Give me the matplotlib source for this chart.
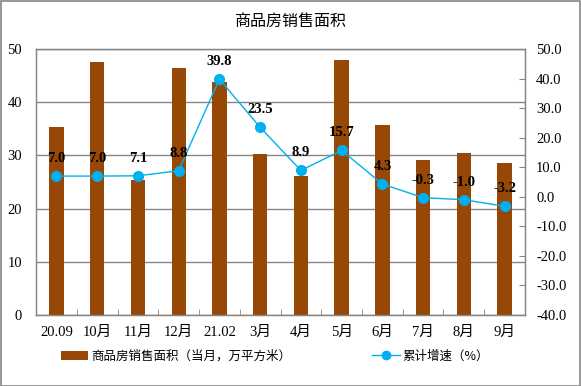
import matplotlib
matplotlib.use("Agg")
import matplotlib.pyplot as plt
from matplotlib.patches import Rectangle
from matplotlib.lines import Line2D
from matplotlib.patches import Patch

categories = ["20.09", "10月", "11月", "12月", "21.02", "3月", "4月", "5月", "6月", "7月", "8月", "9月"]
area = [35.3, 47.6, 25.4, 46.4, 43.8, 30.3, 26.1, 47.9, 35.7, 29.1, 30.5, 28.6]
growth = [7.0, 7.0, 7.1, 8.8, 39.8, 23.5, 8.9, 15.7, 4.3, -0.3, -1.0, -3.2]
left_ticks = [0, 10, 20, 30, 40, 50]
right_ticks = [-40, -30, -20, -10, 0, 10, 20, 30, 40, 50]

FAM = ['Liberation Serif', 'Noto Sans CJK SC']
plt.rcParams['font.family'] = FAM

BAR = '#974706'
LINE = '#00B0F0'
GRID = '#868686'

fig = plt.figure(figsize=(5.81, 3.86), dpi=100)
fig.patches.append(Rectangle((0.001, 0.001), 0.997, 0.997, transform=fig.transFigure,
                             fill=False, edgecolor='#868686', linewidth=1.2))
ax = fig.add_axes([0.062, 0.184, 0.8416, 0.689])
x = list(range(len(categories)))
ax.bar(x, area, width=0.35, color=BAR, zorder=2)
ax.set_xlim(-0.5, len(categories) - 0.5)
ax.set_ylim(0, 50)
ax.set_yticks(left_ticks)
ax.set_yticklabels([str(v) for v in left_ticks], fontsize=10.5)
ax.tick_params(axis='y', length=0, pad=10)
ax.yaxis.grid(True, color=GRID, linewidth=1)
ax.set_axisbelow(True)
ax.set_xticks(x)
ax.set_xticklabels(categories, fontsize=10.5)
ax.set_xticks([i + 0.5 for i in range(len(categories) - 1)], minor=True)
ax.tick_params(axis='x', which='major', length=0, pad=8)
ax.tick_params(axis='x', which='minor', direction='in', length=4, color=GRID)
for s in ax.spines.values():
    s.set_color(GRID)
    s.set_linewidth(1)

ax2 = ax.twinx()
ax2.plot(x, growth, color=LINE, linewidth=1, marker='o', markersize=7, zorder=3)
ax2.set_ylim(-40, 50)
ax2.set_yticks(right_ticks)
ax2.set_yticklabels([f"{v:.1f}" for v in right_ticks], fontsize=10.5)
ax2.tick_params(axis='y', direction='in', length=4, color=GRID, pad=8)
for s in ax2.spines.values():
    s.set_color(GRID)
for xi, g in zip(x, growth):
    ax2.annotate(f"{g:.1f}", (xi, g), xytext=(0, 8), textcoords='offset points',
                 ha='center', va='bottom', fontsize=10.5, fontweight='bold')

fig.text(0.5, 0.945, "商品房销售面积", ha='center', va='center', fontsize=11.5,
         family=['Noto Sans CJK SC'])

handles = [Patch(facecolor=BAR, edgecolor='none'),
           Line2D([0], [0], color=LINE, marker='o', markersize=6, linewidth=1)]
labels = ["商品房销售面积（当月，万平方米）", "累计增速（%）"]
leg = fig.legend(handles, labels, loc='center', bbox_to_anchor=(0.473, 0.077), ncol=2,
                 frameon=False, columnspacing=6.5, handlelength=2.2,
                 handletextpad=0.2, prop={'family': ['Noto Sans CJK SC'], 'size': 9})

fig.savefig("out.png", dpi=100)
